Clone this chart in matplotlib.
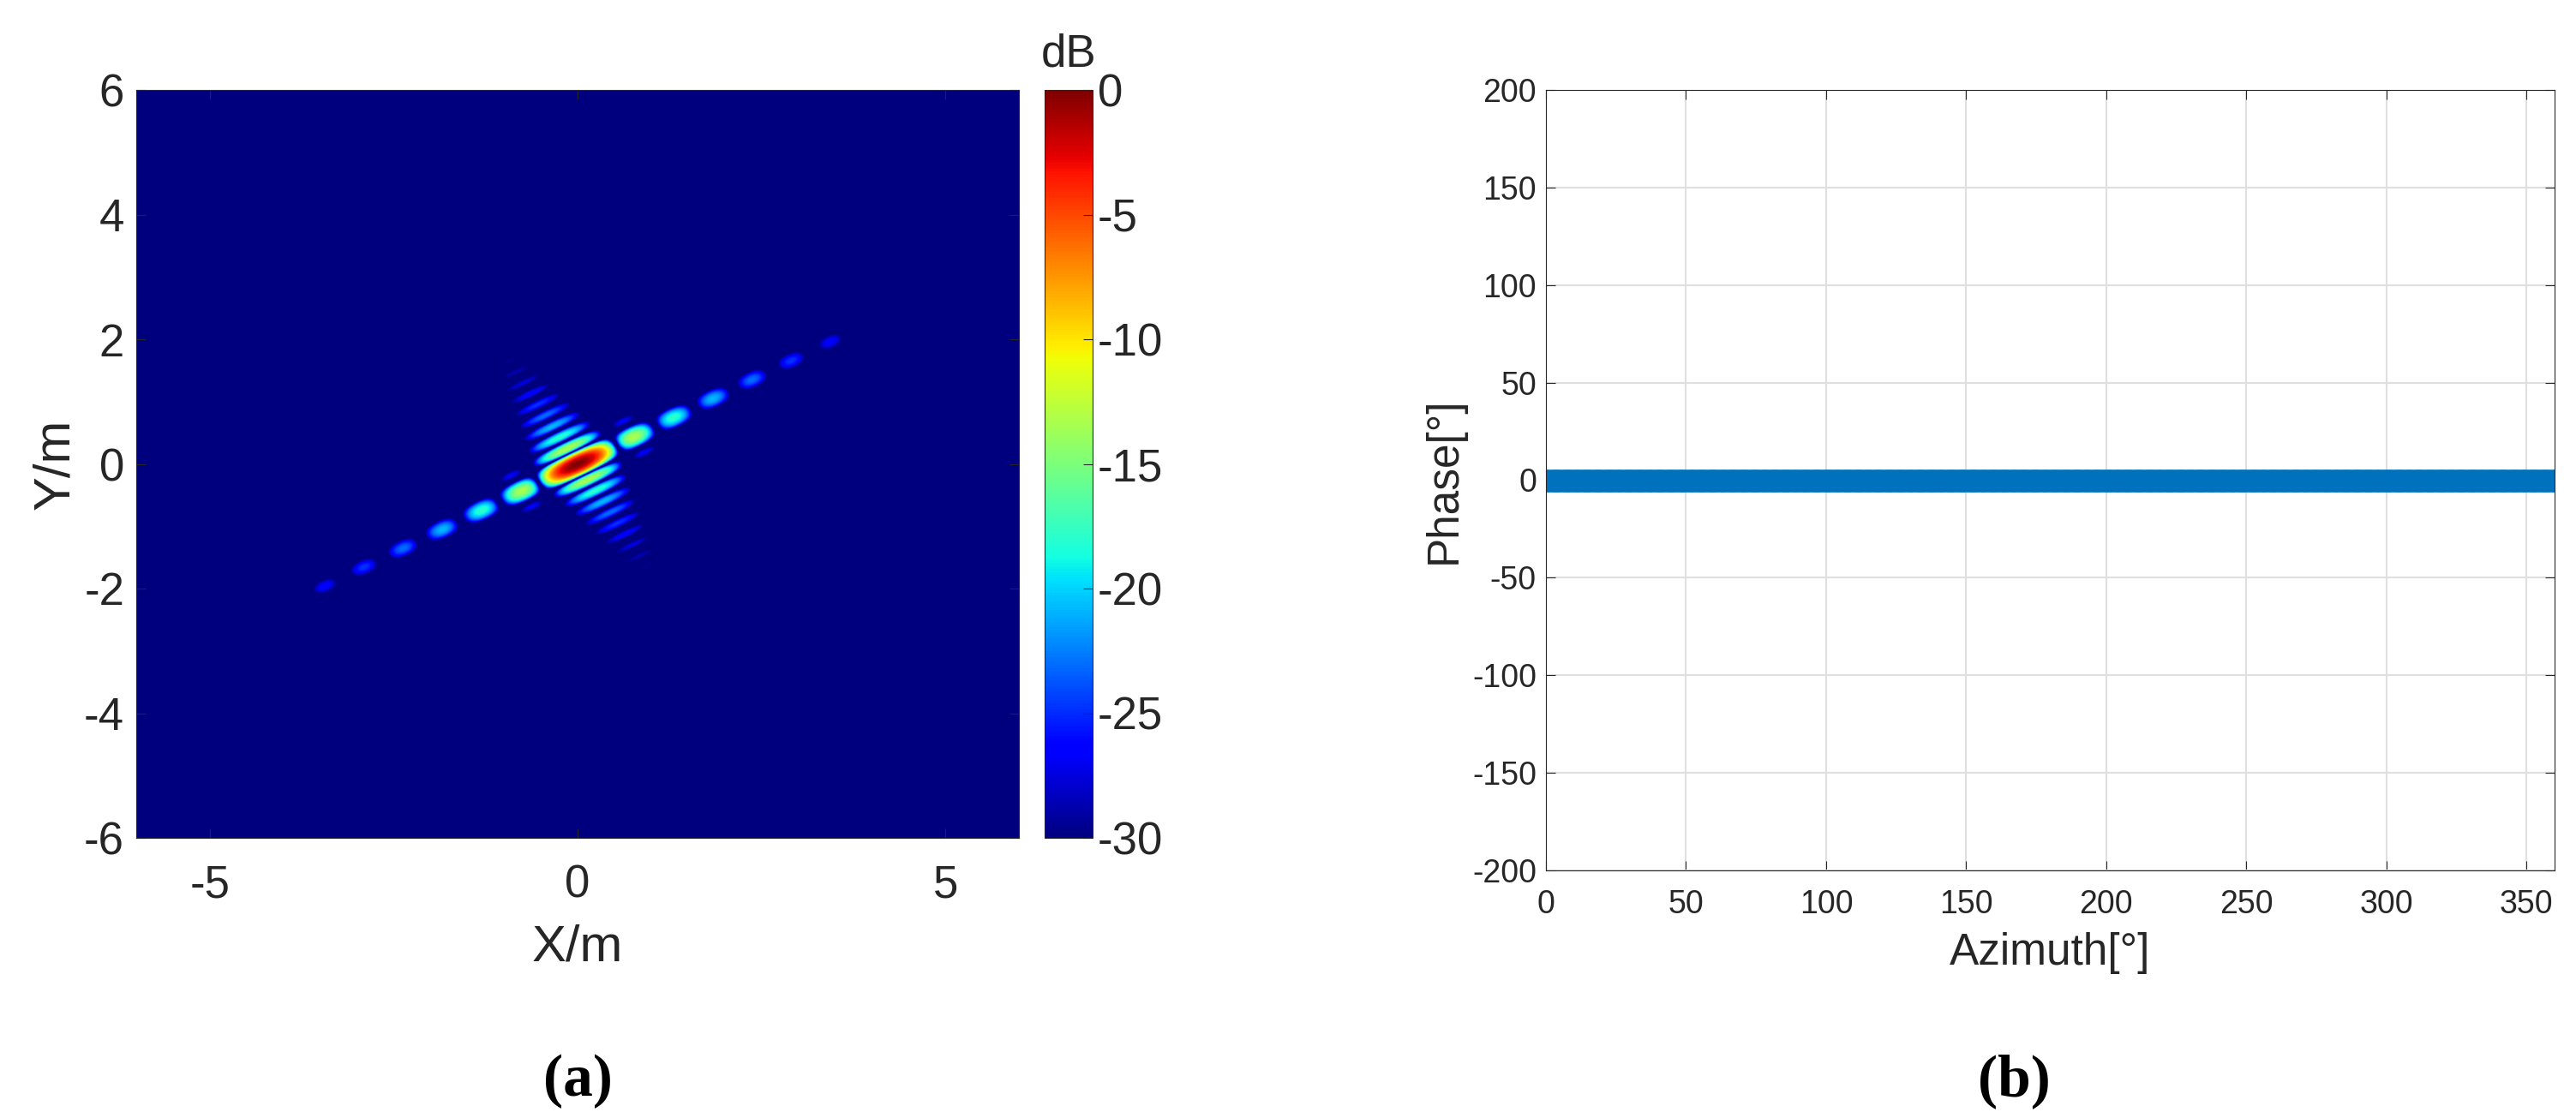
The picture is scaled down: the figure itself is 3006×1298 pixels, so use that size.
import numpy as np
import matplotlib.pyplot as plt

# point spread function (a): rotated separable sinc^2 pattern
lobe_angle_deg = 29.7          # direction of the long sidelobe row
along_zero = 0.61              # first null spacing along the row (m)
across_zero = 0.20             # first null spacing across the row (m)
along_limit = 4.15             # sidelobes visible up to this distance (m)
db_floor = -30
x_extent = [-6, 6]
y_extent = [-6, 6]

# phase vs azimuth (b)
azimuth = np.arange(0, 361, 1)
phase = np.zeros(len(azimuth))

plt.rcParams['font.family'] = ['Liberation Sans', 'DejaVu Sans']
plt.rcParams['axes.unicode_minus'] = False
txt = '#262626'

fig = plt.figure(figsize=(30.06, 12.98), dpi=100)
W, H = 3006, 1298

ax1 = fig.add_axes([159 / W, 1 - 978 / H, (1189 - 159) / W, (978 - 105) / H])
xs = np.linspace(x_extent[0], x_extent[1], 1200)
ys = np.linspace(y_extent[0], y_extent[1], 1200)
X, Y = np.meshgrid(xs, ys)
a = np.deg2rad(lobe_angle_deg)
p = X * np.cos(a) + Y * np.sin(a)
q = -X * np.sin(a) + Y * np.cos(a)
amp = (np.sinc(p / along_zero) * np.sinc(q / across_zero)) ** 2
amp[np.abs(p) > along_limit] = 0
img = np.clip(10 * np.log10(amp + 1e-12), db_floor, 0)
im = ax1.imshow(img, origin='lower', extent=x_extent + y_extent, cmap='jet',
                vmin=db_floor, vmax=0, aspect='auto', interpolation='bilinear')
ax1.set_xlim(x_extent)
ax1.set_ylim(y_extent)
ax1.set_xticks([-5, 0, 5])
ax1.set_yticks([-6, -4, -2, 0, 2, 4, 6])
ax1.tick_params(direction='in', top=True, right=True, labelsize=38, colors=txt,
                length=8, pad=10)
ax1.tick_params(axis='x', pad=22)
ax1.set_xlabel('X/m', fontsize=43, color=txt, labelpad=14)
ax1.set_ylabel('Y/m', fontsize=43, color=txt, labelpad=4)
for s in ax1.spines.values():
    s.set_color(txt)

cax = fig.add_axes([1219 / W, 1 - 978 / H, (1275 - 1219) / W, (978 - 105) / H])
cb = fig.colorbar(im, cax=cax, ticks=[0, -5, -10, -15, -20, -25, -30])
cb.ax.tick_params(direction='in', labelsize=38, colors=txt, length=8, pad=4)
cb.outline.set_edgecolor(txt)
cax.set_title('dB', fontsize=38, color=txt, pad=20)

ax2 = fig.add_axes([1804 / W, 1 - 1016 / H, (2981 - 1804) / W, (1016 - 105) / H])
ax2.plot(azimuth, phase, 'o', color='#0072BD', markersize=17, markeredgewidth=2)
ax2.set_xlim(0, 360)
ax2.set_ylim(-200, 200)
ax2.set_xticks(range(0, 361, 50))
ax2.set_yticks(range(-200, 201, 50))
ax2.grid(True, color='#dfdfdf', linewidth=1.5)
ax2.set_axisbelow(True)
ax2.tick_params(direction='in', top=True, right=True, labelsize=27, colors=txt,
                length=8, pad=8)
ax2.tick_params(axis='x', pad=16)
ax2.set_xlabel('Azimuth[°]', fontsize=37, color=txt, labelpad=10)
ax2.set_ylabel('Phase[°]', fontsize=37, color=txt, labelpad=6)
for s in ax2.spines.values():
    s.set_color(txt)

fig.text(674 / W, 1 - 1262 / H, '(a)', fontsize=50, fontweight='bold',
         family='Liberation Serif', ha='center', va='center')
fig.text(2350 / W, 1 - 1262 / H, '(b)', fontsize=50, fontweight='bold',
         family='Liberation Serif', ha='center', va='center')

fig.savefig('out.png', dpi=100)
